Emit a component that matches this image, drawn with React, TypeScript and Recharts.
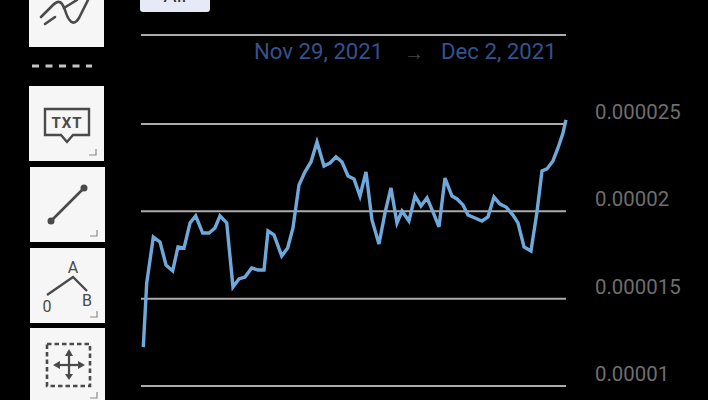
import { CartesianGrid, Line, LineChart, ReferenceLine, XAxis, YAxis } from "recharts";

const COLOR_LINE = "#6FA9DC";
const COLOR_GRID = "#ABABAB";
const COLOR_TICK = "#6E6E6E";
const COLOR_DATE = "#35518E";
const ICON = "#4A4A4A";

const FONT = "Roboto, sans-serif";

// hours since the start of the range
const hours = [
  0.05, 0.63, 1.75, 2.88, 3.9, 5.03, 5.93, 6.95, 7.97, 8.93, 10.12, 11.19,
  12.2, 13.05, 14.19, 15.25, 16.27, 17.29, 18.42, 19.49, 20.51, 21.19, 22.2, 23.51,
  24.52, 25.42, 26.44, 27.46, 28.47, 29.49, 30.68, 31.69, 32.71, 33.73, 34.75, 35.76,
  36.78, 37.8, 38.81, 40, 41.02, 42.03, 43.05, 43.9, 45.08, 46.1, 47.12, 48.14,
  49.15, 50.17, 51.19, 52.37, 53.22, 54.24, 55.08, 56.27, 57.46, 58.47, 59.49, 60.51,
  61.53, 62.71, 63.56, 64.58, 65.76, 66.78, 67.63, 68.47, 69.49, 70.34, 71.19, 71.69,
];
// price in millionths
const prices = [
  12.23, 15.9, 18.53, 18.25, 16.93, 16.59, 17.96, 17.9, 19.34, 19.74, 18.76, 18.76,
  19.05, 19.74, 19.34, 15.67, 16.13, 16.24, 16.76, 16.64, 16.64, 18.88, 18.65, 17.45,
  17.9, 19.05, 21.51, 22.26, 22.83, 23.97, 22.6, 22.77, 23.12, 22.83, 22.03, 21.86,
  20.88, 22.26, 19.51, 18.13, 19.91, 21.34, 19.34, 20.02, 19.45, 20.88, 20.31, 20.77,
  19.97, 19.11, 21.91, 20.88, 20.71, 20.37, 19.79, 19.62, 19.45, 19.68, 20.82, 20.42,
  20.25, 19.79, 19.34, 17.96, 17.73, 19.97, 22.31, 22.43, 22.89, 23.63, 24.49, 25.24,
];
const yTicks = [10, 15, 20, 25];
const yTickLabels = ["0.00001", "0.000015", "0.00002", "0.000025"];
const yTop = 30.1;
const rangeStart = "Nov 29, 2021";
const rangeEnd = "Dec 2, 2021";

const data = prices.map((price, i) => ({ hour: hours[i], price }));

function PriceTick(props: any) {
  const { y, payload } = props;
  const label = yTickLabels[yTicks.indexOf(payload.value)];
  return (
    <text x={595} y={y - 5} fontSize={20.4} fontFamily={FONT} fill={COLOR_TICK}>
      {label}
    </text>
  );
}

function ToolBox({ top, left = 29, height = 75, corner = true, children }: any) {
  return (
    <div style={{ position: "absolute", left, top, width: 75, height, background: "#F6F6F6" }}>
      <svg width={75} height={height} style={{ display: "block" }}>
        {children}
        {corner && (
          <path d={`M67 ${height - 12} V${height - 6} H60`} fill="none" stroke="#8A8A8A" strokeWidth={1.2} />
        )}
      </svg>
    </div>
  );
}

export default function App() {
  return (
    <div style={{ position: "absolute", left: 0, top: 0, width: 708, height: 400, background: "#000", overflow: "hidden", fontFamily: FONT }}>
      <LineChart width={708} height={400} data={data} margin={{ top: 35, right: 0, bottom: 14, left: 141 }}>
        <CartesianGrid horizontal vertical={false} stroke={COLOR_GRID} strokeWidth={2} />
        <XAxis dataKey="hour" type="number" domain={[0, 71.7]} hide padding={{ left: 2, right: 0 }} />
        <YAxis
          orientation="right"
          width={142}
          domain={[10, yTop]}
          ticks={yTicks}
          axisLine={false}
          tickLine={false}
          tick={<PriceTick />}
          interval={0}
        />
        <ReferenceLine y={yTop} stroke={COLOR_GRID} strokeWidth={2} />
        <Line
          type="linear"
          dataKey="price"
          stroke={COLOR_LINE}
          strokeWidth={3.4}
          dot={false}
          activeDot={false}
          isAnimationActive={false}
        />
      </LineChart>

      {/* range button, cut off by the top edge */}
      <div style={{ position: "absolute", left: 140, top: -28, width: 70, height: 40, background: "#E6EAF6", borderRadius: 3, textAlign: "center", fontSize: 20, lineHeight: "46px", color: "#333", overflow: "hidden" }}>
        All
      </div>

      <div style={{ position: "absolute", left: 254, top: 38, fontSize: 22.2, lineHeight: "26px", color: COLOR_DATE, whiteSpace: "nowrap" }}>
        {rangeStart}
      </div>
      <div style={{ position: "absolute", left: 404, top: 41, fontSize: 20, lineHeight: "24px", color: "#444" }}>→</div>
      <div style={{ position: "absolute", left: 441, top: 38, fontSize: 22.2, lineHeight: "26px", color: COLOR_DATE, whiteSpace: "nowrap" }}>
        {rangeEnd}
      </div>

      {/* left toolbar */}
      <ToolBox top={-28} corner={false}>
        <g fill="none" stroke={ICON} strokeWidth={2.6} strokeLinecap="round" strokeLinejoin="round">
          <path d="M12 45 L24 33 C30 27 33 30 36 38 C39 48 44 56 50 46 L60 26" />
          <path d="M16 52 L26 45" />
          <path d="M35 36 L48 28" />
        </g>
      </ToolBox>
      <svg width={70} height={6} style={{ position: "absolute", left: 28, top: 63 }}>
        <line x1={4} y1={3} x2={64} y2={3} stroke="#C4C4C4" strokeWidth={3} strokeDasharray="7 6.5" />
      </svg>
      <ToolBox top={86}>
        <path d="M16 23 H60 V49 H44 L38 56 L32 49 H16 Z" fill="none" stroke={ICON} strokeWidth={2.4} />
        <text x={38} y={42} textAnchor="middle" fontSize={15} fontWeight={700} fontFamily={FONT} fill={ICON} letterSpacing={1}>
          TXT
        </text>
      </ToolBox>
      <ToolBox top={167} left={30}>
        <line x1={21} y1={54} x2={54} y2={21} stroke={ICON} strokeWidth={2.6} />
        <circle cx={21} cy={54} r={3.5} fill={ICON} />
        <circle cx={54} cy={21} r={3.5} fill={ICON} />
      </ToolBox>
      <ToolBox top={248} left={30}>
        <path d="M17 47 L43 29 L57 43" fill="none" stroke={ICON} strokeWidth={2.4} />
        <text x={43} y={25} textAnchor="middle" fontSize={16} fontFamily={FONT} fill={ICON}>A</text>
        <text x={17} y={64} textAnchor="middle" fontSize={16} fontFamily={FONT} fill={ICON}>0</text>
        <text x={57} y={58} textAnchor="middle" fontSize={16} fontFamily={FONT} fill={ICON}>B</text>
      </ToolBox>
      <ToolBox top={328} left={30} height={80} corner={false}>
        <rect x={17} y={16} width={43} height={42} fill="none" stroke={ICON} strokeWidth={2.6} strokeDasharray="4.5 3" />
        <g fill="none" stroke={ICON} strokeWidth={2.2}>
          <line x1={39} y1={23} x2={39} y2={50} />
          <line x1={25} y1={37} x2={53} y2={37} />
        </g>
        <g fill={ICON}>
          <path d="M39 21 L35 28 H43 Z" />
          <path d="M39 52 L35 46 H43 Z" />
          <path d="M23 37 L30 33 V41 Z" />
          <path d="M55 37 L48 33 V41 Z" />
        </g>
        <path d="M67 64 V70 H60" fill="none" stroke="#8A8A8A" strokeWidth={1.2} />
      </ToolBox>
    </div>
  );
}
